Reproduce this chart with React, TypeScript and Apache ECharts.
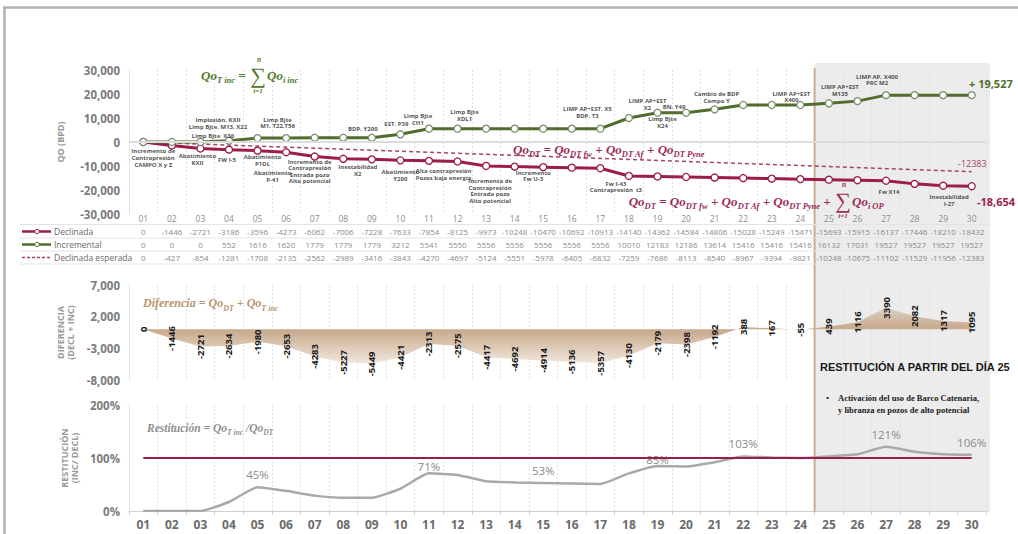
import React, { useEffect, useRef } from 'react';
import * as echarts from 'echarts';

// ---- Datos ----
const dias = ['01', '02', '03', '04', '05', '06', '07', '08', '09', '10', '11', '12', '13', '14', '15',
  '16', '17', '18', '19', '20', '21', '22', '23', '24', '25', '26', '27', '28', '29', '30'];

const declinada = [0, -1446, -2721, -3186, -3596, -4273, -6062, -7006, -7228, -7633, -7854, -8125, -9973,
  -10248, -10470, -10692, -10913, -14140, -14362, -14584, -14806, -15028, -15249, -15471, -15693, -15915,
  -16137, -17446, -18210, -18432];

const incremental = [0, 0, 0, 552, 1616, 1620, 1779, 1779, 1779, 3212, 5541, 5550, 5556, 5556, 5556, 5556,
  5556, 10010, 12183, 12186, 13614, 15416, 15416, 15416, 16132, 17031, 19527, 19527, 19527, 19527];

const declinadaEsperada = [0, -427, -854, -1281, -1708, -2135, -2562, -2989, -3416, -3843, -4270, -4697,
  -5124, -5551, -5978, -6405, -6832, -7259, -7686, -8113, -8540, -8967, -9394, -9821, -10248, -10675,
  -11102, -11529, -11956, -12383];

const diferencia = [0, -1446, -2721, -2634, -1980, -2653, -4283, -5227, -5449, -4421, -2313, -2575, -4417,
  -4692, -4914, -5136, -5357, -4130, -2179, -2398, -1192, 388, 167, -55, 439, 1116, 3390, 2082, 1317, 1095];

const restitucion = [0, 0, 0, 17, 45, 38, 29, 25, 25, 42, 71, 68, 56, 54, 53, 52, 51, 71, 85, 84, 92, 103,
  101, 100, 103, 107, 121, 112, 107, 106];

// índices de los días cuya restitución se rotula
const restitucionRotulada = [4, 10, 14, 18, 21, 26, 29];

const filasTabla = ['Declinada', 'Incremental', 'Declinada esperada'];

// eventos operativos sobre la curva incremental (dia = índice del día)
const eventosIncremental = [
  { dia: 3, texto: 'Implosión, KXII\nLimp Bjte. M13, X22', dx: -11, dy: -17 },
  { dia: 3, texto: 'Limp Bjte  X36', dx: -16, dy: -5 },
  { dia: 4, texto: 'Limp Bjte\nM1, T22,T56', dx: 20, dy: -15 },
  { dia: 8, texto: 'BDP, Y200', dx: -9, dy: -9 },
  { dia: 9, texto: 'EST. P39', dx: -4, dy: -10 },
  { dia: 10, texto: 'Limp Bjte\nCH1', dx: -11, dy: -9 },
  { dia: 11, texto: 'Limp Bjte\nXDL1', dx: 7, dy: -13 },
  { dia: 16, texto: 'LIMP AP+EST. X5\nBDP, T3', dx: -13, dy: -16 },
  { dia: 18, texto: 'LIMP AP+EST\nX2', dx: -10, dy: -8 },
  { dia: 19, texto: 'BN. Y49', dx: -12, dy: -6 },
  { dia: 18, texto: 'Limp Bjte\nX24', dx: 5, dy: 10 },
  { dia: 20, texto: 'Cambio de BDP\nCampo Y', dx: 2, dy: -12 },
  { dia: 23, texto: 'LIMP AP+EST\nX400', dx: -9, dy: -8 },
  { dia: 24, texto: 'LIMP AP+EST\nM135', dx: 11, dy: -13 },
  { dia: 26, texto: 'LIMP AP, X400\nPRC M2', dx: -9, dy: -15 },
];

// eventos operativos sobre la curva declinada
const eventosDeclinada = [
  { dia: 0, texto: 'Incremento de\nContrapresión\nCAMPO X y Z', dx: 10, dy: 16 },
  { dia: 2, texto: 'Abatimiento\nKXII', dx: -3, dy: 11 },
  { dia: 3, texto: 'FW I-5', dx: -2, dy: 10 },
  { dia: 4, texto: 'Abatimiento\nP1DL', dx: 5, dy: 10 },
  { dia: 4, texto: 'Abatimiento\nP-41', dx: 15, dy: 26 },
  { dia: 6, texto: 'Incremento de\nContrapresión\nEntrada pozo\nAlto potencial', dx: -5, dy: 15 },
  { dia: 8, texto: 'Inestabilidad\nX2', dx: -14, dy: 11 },
  { dia: 9, texto: 'Abatimiento\nY200', dx: 0, dy: 15 },
  { dia: 11, texto: 'Alta contrapresión\nPozos baja energía', dx: -14, dy: 13 },
  { dia: 12, texto: 'Incremento de\nContrapresión\nEntrada pozo\nAlto potencial', dx: 4, dy: 25 },
  { dia: 14, texto: 'Incremento\nFw U-3', dx: -10, dy: 9 },
  { dia: 17, texto: 'Fw I-43\nContrapresión  t3', dx: -13, dy: 11 },
  { dia: 26, texto: 'Fw X14', dx: 3, dy: 11 },
  { dia: 28, texto: 'Inestabilidad\nI-27', dx: 6, dy: 15 },
];

// ---- Estilo y maquetación ----
const W = 1018;
const H = 534;
const GL = 129;
const GR = 32;
const banda = (W - GL - GR) / dias.length;

const ROJO = '#9c1c4c';
const ROJO_CLARO = '#a8426b';
const VERDE = '#4f6e2b';
const SANS = "'Open Sans', 'Noto Sans', sans-serif";
const SERIF = "'Liberation Serif', 'DejaVu Serif', serif";
const NARROW = "'Liberation Sans Narrow', 'Liberation Sans', sans-serif";

const miles = (v: number) => v.toLocaleString('en-US');

const etiquetaEjeY = { color: '#7b7b7b', fontWeight: 'bold', fontSize: 11.5, fontFamily: SANS, margin: 9 };
const nombreEjeY = { color: '#9a9a9a', fontWeight: 'bold', fontSize: 9, fontFamily: SANS, lineHeight: 10 };
const divisionVertical = { show: true, lineStyle: { color: '#e0e0e0', type: [2, 2], width: 1 } };
const sinLinea = { show: false, onZero: false };

function formula(x: number, y: number, text: string, color: string, size: number, sub: number, align = 'left') {
  const base = { fill: color, fontFamily: SERIF, fontStyle: 'italic', fontWeight: 'bold' };
  return {
    type: 'text', x, y, silent: true, z: 20,
    style: {
      text, align, verticalAlign: 'middle', ...base, fontSize: size,
      rich: {
        m: { ...base, fontSize: size, lineHeight: size + 6, verticalAlign: 'middle' },
        s: { ...base, fontSize: sub, verticalAlign: 'bottom' },
      },
    },
  };
}

function texto(x: number, y: number, text: string, style: Record<string, unknown>) {
  return { type: 'text', x, y, silent: true, z: 20, style: { text, verticalAlign: 'middle', ...style } };
}

function sumatoria(x: number, y: number, color: string) {
  const base = { fill: color, fontFamily: SERIF, align: 'center', verticalAlign: 'middle' };
  return [
    texto(x, y, '\u2211', { ...base, fontSize: 22, lineHeight: 19 }),
    texto(x + 1, y - 16, 'n', { ...base, fontSize: 7.5, lineHeight: 7, fontStyle: 'italic', fontWeight: 'bold' }),
    texto(x, y + 16, 'i=1', { ...base, fontSize: 7, lineHeight: 7, fontStyle: 'italic', fontWeight: 'bold' }),
  ];
}

function notas(eventos: typeof eventosIncremental, serie: number[]) {
  return {
    type: 'scatter', xAxisIndex: 0, yAxisIndex: 0, symbolSize: 1, silent: true, z: 6,
    itemStyle: { color: 'rgba(0,0,0,0)' },
    label: {
      show: true, position: 'inside', fontSize: 6, lineHeight: 6.6, fontWeight: 'bold',
      color: '#1e1e1e', fontFamily: SANS, align: 'center',
    },
    data: eventos.map((e) => ({
      value: [e.dia, serie[e.dia]],
      label: { formatter: e.texto, offset: [e.dx, e.dy] },
    })),
  };
}

function buildOption() {
  const xSombra = GL + banda * 24;
  const seriesTabla = [declinada, incremental, declinadaEsperada];
  const filasY = [231.5, 244.5, 257.5];

  const leyenda: any[] = [];
  filasTabla.forEach((nombre, k) => {
    const y = filasY[k];
    const color = k === 1 ? VERDE : ROJO;
    leyenda.push({
      type: 'line', silent: true, z: 20,
      shape: { x1: 22, y1: y, x2: 51, y2: y },
      style: k === 2
        ? { stroke: ROJO_CLARO, lineWidth: 1.3, lineDash: [3, 2] }
        : { stroke: color, lineWidth: 2.5 },
    });
    if (k < 2) {
      leyenda.push({
        type: 'circle', silent: true, z: 21,
        shape: { cx: 37, cy: y, r: 2.2 },
        style: { fill: '#fff', stroke: color, lineWidth: 1 },
      });
    }
    leyenda.push(texto(54, y, nombre, { fill: '#6a6a6a', fontSize: 8.5, fontFamily: SANS }));
  });

  const separadores = [224.5, 238, 251, 264].map((y) => ({
    type: 'line', silent: true, z: 1,
    shape: { x1: 20, y1: y, x2: 990, y2: y },
    style: { stroke: '#e4e4e4', lineWidth: 1 },
  }));

  const graphic: any[] = [
    { type: 'rect', silent: true, z: -10, shape: { x: xSombra, y: 63, width: 990 - xSombra, height: 449 }, style: { fill: '#ececec' } },
    { type: 'line', silent: true, z: 1, shape: { x1: xSombra, y1: 68, x2: xSombra, y2: 512 }, style: { stroke: '#c9ad90', lineWidth: 2 } },
    { type: 'line', silent: true, z: 30, shape: { x1: 3, y1: 7.5, x2: W, y2: 7.5 }, style: { stroke: '#b3b3b3', lineWidth: 2.5 } },
    { type: 'line', silent: true, z: 30, shape: { x1: 4.5, y1: 7, x2: 4.5, y2: H }, style: { stroke: '#b3b3b3', lineWidth: 2.5 } },
    ...separadores,
    ...leyenda,

    // fórmulas
    formula(249, 75, '{m|Qo}{s|T inc}{m| = }', '#4e7a2c', 13, 8.5, 'right'),
    ...sumatoria(258, 75, '#4e7a2c'),
    formula(267, 75, '{m|Qo}{s|i inc}', '#4e7a2c', 13, 8.5),

    formula(513, 149, '{m|Qo}{s|DT}{m| = Qo}{s|DT fw}{m| + Qo}{s|DT Af}{m| + Qo}{s|DT Pyne}', '#9b2d5a', 13, 8.5),

    formula(834, 201, '{m|Qo}{s|DT}{m| = Qo}{s|DT fw}{m| + Qo}{s|DT Af}{m| + Qo}{s|DT Pyne}{m| + }', '#9b2d5a', 13, 8.5, 'right'),
    ...sumatoria(843, 200, '#9b2d5a'),
    formula(852, 201, '{m|Qo}{s|i OP}', '#9b2d5a', 13, 8.5),

    formula(143, 303, '{m|Diferencia = Qo}{s|DT}{m| + Qo}{s|T inc}', '#b8956f', 12, 8),
    formula(147, 428, '{m|Restitución = Qo}{s|T inc}{m| /Qo}{s|DT}', '#8f8f8f', 11.5, 7.5),

    // valores finales
    texto(969, 83, `+ ${miles(incremental[incremental.length - 1])}`, { fill: VERDE, fontSize: 11, fontWeight: 'bold', fontFamily: SANS }),
    texto(958, 163, String(declinadaEsperada[declinadaEsperada.length - 1]), { fill: ROJO_CLARO, fontSize: 9, fontFamily: SANS }),
    texto(977, 201, '-18,654', { fill: ROJO, fontSize: 11, fontWeight: 'bold', fontFamily: SANS }),

    // nota del periodo de restitución
    texto(820, 367, 'RESTITUCIÓN A PARTIR DEL DÍA 25', { fill: '#1a1a1a', fontSize: 11, fontWeight: 'bold', fontFamily: NARROW }),
    texto(826, 398, '\u2022', { fill: '#1a1a1a', fontSize: 9, fontFamily: SERIF }),
    texto(838, 398, 'Activación del uso de Barco Catenaria,', { fill: '#1a1a1a', fontSize: 8.5, fontWeight: 'bold', fontFamily: SERIF }),
    texto(838, 410, 'y libranza en pozos de alto potencial', { fill: '#1a1a1a', fontSize: 8.5, fontWeight: 'bold', fontFamily: SERIF }),
  ];

  const xAxis: any[] = [
    {
      gridIndex: 0, type: 'category', data: dias, boundaryGap: true,
      axisLine: sinLinea, axisTick: { show: false },
      axisLabel: { color: '#8c8c8c', fontSize: 8.5, margin: 0, interval: 0, fontFamily: SANS },
      splitLine: divisionVertical,
    },
    ...seriesTabla.map((serie, k) => ({
      gridIndex: 0, type: 'category', data: dias, position: 'bottom', offset: 13 * (k + 1),
      axisLine: sinLinea, axisTick: { show: false }, splitLine: { show: false },
      axisLabel: {
        interval: 0, margin: 0, fontSize: 8, color: '#8a8a8a', fontFamily: SANS,
        formatter: (_v: string, i: number) => String(serie[i]),
      },
    })),
    {
      gridIndex: 1, type: 'category', data: dias, boundaryGap: true,
      axisLine: sinLinea, axisTick: { show: false }, axisLabel: { show: false },
      splitLine: divisionVertical,
    },
    {
      gridIndex: 2, type: 'category', data: dias, boundaryGap: true,
      axisLine: { show: true, onZero: false, lineStyle: { color: '#cfcfcf', width: 1 } },
      axisTick: { show: true, length: 4, lineStyle: { color: '#cfcfcf' } },
      axisLabel: { color: '#6b6b6b', fontWeight: 'bold', fontSize: 12, margin: 7, interval: 0, fontFamily: SANS },
      splitLine: divisionVertical,
    },
  ];

  const yAxis: any[] = [
    {
      gridIndex: 0, type: 'value', min: -30000, max: 30000, interval: 10000,
      axisLine: { show: true, lineStyle: { color: '#e3e3e3' } }, axisTick: { show: false },
      splitLine: { show: false }, axisLabel: { ...etiquetaEjeY, formatter: miles },
      name: 'QO (BPD)', nameLocation: 'middle', nameRotate: 90, nameGap: 64, nameTextStyle: nombreEjeY,
    },
    {
      gridIndex: 1, type: 'value', min: -8000, max: 7000, interval: 5000,
      axisLine: { show: true, lineStyle: { color: '#e3e3e3' } }, axisTick: { show: false },
      splitLine: { show: false }, axisLabel: { ...etiquetaEjeY, formatter: miles },
      name: 'DIFERENCIA\n(DECL + INC)', nameLocation: 'middle', nameRotate: 90, nameGap: 50, nameTextStyle: nombreEjeY,
    },
    {
      gridIndex: 2, type: 'value', min: 0, max: 200, interval: 100,
      axisLine: { show: true, lineStyle: { color: '#e3e3e3' } }, axisTick: { show: false },
      splitLine: { show: false }, axisLabel: { ...etiquetaEjeY, formatter: '{value}%' },
      name: 'RESTITUCIÓN\n(INC/ DECL)', nameLocation: 'middle', nameRotate: 90, nameGap: 44, nameTextStyle: nombreEjeY,
    },
  ];

  const puntoBlanco = (color: string) => ({
    symbol: 'circle', symbolSize: 7,
    itemStyle: { color: '#fff', borderColor: color, borderWidth: 1.3 },
  });

  const series: any[] = [
    {
      name: 'Declinada esperada', type: 'line', xAxisIndex: 0, yAxisIndex: 0, data: declinadaEsperada,
      symbol: 'none', z: 2, lineStyle: { color: ROJO_CLARO, width: 1.5, type: [4, 3] },
      markLine: {
        silent: true, symbol: 'none', label: { show: false },
        lineStyle: { color: '#dddddd', width: 2, type: 'solid' }, data: [{ yAxis: 0 }],
      },
    },
    {
      name: 'Declinada', type: 'line', xAxisIndex: 0, yAxisIndex: 0, data: declinada, z: 4,
      lineStyle: { color: ROJO, width: 3 }, ...puntoBlanco(ROJO),
    },
    {
      name: 'Incremental', type: 'line', xAxisIndex: 0, yAxisIndex: 0, data: incremental, z: 4,
      lineStyle: { color: VERDE, width: 3 }, ...puntoBlanco('#7d8f6a'),
    },
    notas(eventosIncremental, incremental),
    notas(eventosDeclinada, declinada),
    {
      name: 'Diferencia', type: 'line', xAxisIndex: 4, yAxisIndex: 1, data: diferencia, z: 3,
      symbol: 'circle', symbolSize: 1, itemStyle: { color: 'rgba(0,0,0,0)' },
      lineStyle: { width: 0 },
      areaStyle: {
        opacity: 1,
        color: new echarts.graphic.LinearGradient(0, 0, 0, 1, [
          { offset: 0, color: '#ddd0c2' },
          { offset: 0.38, color: '#c7a88a' },
          { offset: 1, color: '#f1e8de' },
        ]),
      },
      label: {
        show: true, rotate: 90, position: 'inside', fontSize: 9.5, fontWeight: 'bold',
        color: '#1a1a1a', fontFamily: SANS,
      },
    },
    {
      name: 'Restitución', type: 'line', xAxisIndex: 5, yAxisIndex: 2, z: 3, smooth: 0.15,
      data: restitucion.map((v, i) => (restitucionRotulada.includes(i)
        ? { value: v, label: { show: true, distance: i === 10 || i === 18 ? 0 : 6 } }
        : v)),
      symbol: 'circle', symbolSize: 1, itemStyle: { color: 'rgba(0,0,0,0)' },
      lineStyle: { color: '#a9a9a9', width: 2.5 },
      label: { show: false, position: 'top', formatter: '{c}%', color: '#8a8a8a', fontSize: 11.5, fontFamily: SANS },
      markLine: {
        silent: true, symbol: 'none', label: { show: false },
        lineStyle: { color: ROJO, width: 2, type: 'solid' },
        data: [[{ coord: ['01', 100] }, { coord: ['30', 100] }]],
      },
    },
  ];

  return {
    animation: false,
    backgroundColor: '#ffffff',
    textStyle: { fontFamily: SANS },
    grid: [
      { left: GL, right: GR, top: 70, height: 144 },
      { left: GL, right: GR, top: 285, height: 95 },
      { left: GL, right: GR, top: 405, height: 106 },
    ],
    xAxis,
    yAxis,
    series,
    graphic,
  };
}

export default function App() {
  const ref = useRef<HTMLDivElement>(null);

  useEffect(() => {
    if (!ref.current) return;
    const chart = echarts.init(ref.current, undefined, { renderer: 'svg' });
    chart.setOption(buildOption() as any);
    return () => chart.dispose();
  }, []);

  return (
    <div
      ref={ref}
      style={{ position: 'fixed', left: 0, top: 0, width: W, height: H, background: '#fff' }}
    />
  );
}
